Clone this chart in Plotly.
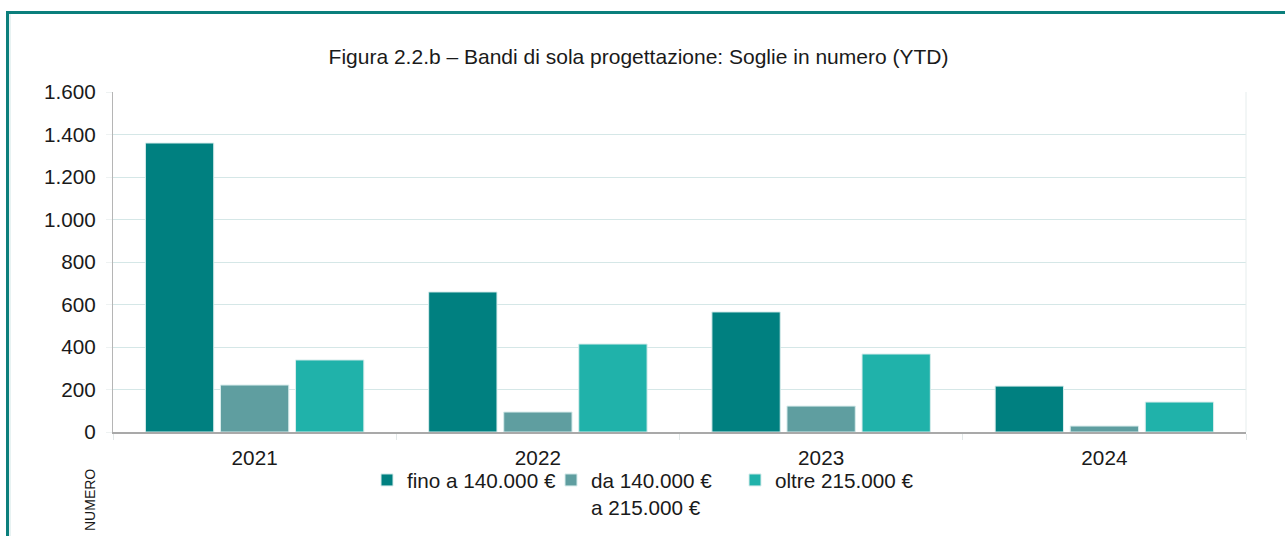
import plotly.graph_objects as go

years = ["2021", "2022", "2023", "2024"]
fino = [1360, 659, 565, 216]
da = [221, 94, 122, 28]
oltre = [339, 414, 367, 141]
series_names = ["fino a 140.000 €", "da 140.000 €<br>a 215.000 €", "oltre 215.000 €"]
series_values = [fino, da, oltre]
colors = ["#008080", "#5F9EA0", "#20B2AA"]
y_ticks = [0, 200, 400, 600, 800, 1000, 1200, 1400, 1600]

FONT = "Liberation Sans, Arial, sans-serif"
FS = 20.7

fig = go.Figure()
for name, vals, col in zip(series_names, series_values, colors):
    fig.add_trace(go.Bar(
        x=years, y=vals, name=name,
        marker=dict(color=col, line=dict(color="#d8ecec", width=1)),
    ))

W, H = 1285, 536
L, R, T, B = 113, 39, 92, 104
pw, ph = W - L - R, H - T - B

def px(x):
    return (x - L) / pw

def py(y):
    return (H - B - y) / ph

fig.update_layout(
    width=W, height=H,
    margin=dict(l=L, r=R, t=T, b=B, autoexpand=False),
    paper_bgcolor="white", plot_bgcolor="white",
    separators=",.",
    font=dict(family=FONT, size=FS, color="#1a1a1a"),
    title=dict(
        text="Figura 2.2.b – Bandi di sola progettazione: Soglie in numero (YTD)",
        x=638.5 / W, xref="container", xanchor="center",
        y=1 - 57 / H, yref="container", yanchor="middle",
        font=dict(family=FONT, size=21, color="#1a1a1a"),
    ),
    barmode="group", bargap=0.205, bargroupgap=0.09,
    showlegend=True,
    legend=dict(
        orientation="h", x=px(367), xanchor="left", y=py(460), yanchor="top",
        font=dict(family=FONT, size=FS, color="#1a1a1a"),
        valign="top", itemwidth=30, traceorder="normal",
        entrywidth=139, entrywidthmode="pixels",
        bgcolor="rgba(0,0,0,0)",
    ),
    xaxis=dict(
        type="category", showgrid=False,
        showline=True, linecolor="#a9a9a9", linewidth=1.5,
        ticks="outside", tickson="boundaries", ticklen=6, tickcolor="#e2e8e8",
        tickfont=dict(family=FONT, size=FS, color="#1a1a1a"),
        ticklabelstandoff=6,
        mirror=False,
    ),
    yaxis=dict(
        range=[0, 1600], tickvals=y_ticks, tickformat=",d",
        showgrid=True, gridcolor="#d5e7e7", gridwidth=1,
        showline=True, linecolor="#b5b5b5", linewidth=1,
        ticks="outside", ticklen=6, tickcolor="#eef2f2",
        tickfont=dict(family=FONT, size=FS, color="#1a1a1a"),
        ticklabelstandoff=6,
        zeroline=False,
    ),
    shapes=[
        dict(type="line", xref="paper", yref="paper", x0=1, x1=1, y0=0, y1=1,
             line=dict(color="#e6eded", width=1)),
        dict(type="line", xref="paper", yref="paper", x0=px(7.5), x1=px(7.5),
             y0=py(12), y1=py(540), line=dict(color="#0b7f7c", width=3)),
        dict(type="line", xref="paper", yref="paper", x0=px(6), x1=px(1290),
             y0=py(12.5), y1=py(12.5), line=dict(color="#0b7f7c", width=3)),
        dict(type="line", xref="paper", yref="paper", x0=px(10), x1=px(10),
             y0=py(14), y1=py(540), line=dict(color="#cfe6e6", width=1)),
    ],
    annotations=[
        dict(text="NUMERO", xref="paper", yref="paper", x=px(90), y=py(500),
             xanchor="center", yanchor="middle", textangle=-90, showarrow=False,
             font=dict(family=FONT, size=14, color="#1a1a1a")),
    ],
)

fig.write_html(
    "out.html",
    config={"displayModeBar": False},
    post_script="document.body.style.margin='0';document.body.style.overflow='hidden';",
)
